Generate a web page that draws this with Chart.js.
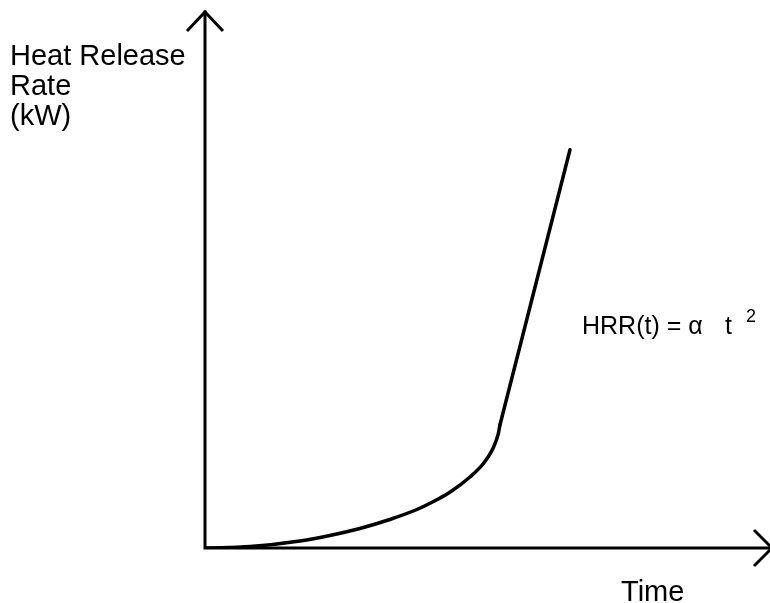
<!DOCTYPE html>
<html>
<head>
<meta charset="utf-8">
<script src="https://cdn.jsdelivr.net/npm/chart.js@4/dist/chart.umd.min.js"></script>
<style>
  html, body { margin: 0; padding: 0; background: #fff; }
  #wrap { width: 770px; height: 603px; }
</style>
</head>
<body>
<div id="wrap"><canvas id="hrr"></canvas></div>
<script>
// growth phase (t-squared part)
const growthTime = [0, 8.0, 16.8, 22.1, 27.4, 32.7, 37.5, 41.1, 43.4, 46.9, 49.2, 51.0, 51.9, 52.2];
const growthHrr = [0, 0.28, 1.31, 2.33, 3.64, 5.32, 7.18, 9.05, 10.45, 13.25, 15.67, 18.66, 21.27, 22.95];
// straight rise after the kink
const rampTime = [52.2, 64.6];
const rampHrr = [22.95, 74.3];

const yLabel = ['Heat Release', 'Rate', '(kW)'];
const xLabel = 'Time';

const toPoints = (xs, ys) => xs.map((x, i) => ({ x, y: ys[i] }));

const axesPlugin = {
  id: 'axesArrows',
  afterDraw(chart) {
    const { ctx, chartArea, scales } = chart;
    const x0 = scales.x.getPixelForValue(0);
    const y0 = scales.y.getPixelForValue(0);
    ctx.save();
    ctx.strokeStyle = '#000';
    ctx.lineWidth = 3;
    ctx.lineCap = 'square';
    ctx.lineJoin = 'miter';

    // axes
    ctx.beginPath();
    ctx.moveTo(x0, chartArea.top);
    ctx.lineTo(x0, y0);
    ctx.lineTo(chartArea.right + 2, y0);
    ctx.stroke();

    // arrow heads
    ctx.lineCap = 'butt';
    ctx.beginPath();
    ctx.moveTo(x0 - 18, chartArea.top + 19);
    ctx.lineTo(x0, chartArea.top);
    ctx.lineTo(x0 + 18, chartArea.top + 19);
    ctx.stroke();
    const tip = chartArea.right + 2;
    ctx.beginPath();
    ctx.moveTo(tip - 18, y0 - 18);
    ctx.lineTo(tip, y0);
    ctx.lineTo(tip - 18, y0 + 18);
    ctx.stroke();

    // labels
    ctx.fillStyle = '#000';
    ctx.textBaseline = 'alphabetic';
    ctx.textAlign = 'left';
    ctx.font = '29px "Liberation Sans", Arial, sans-serif';
    yLabel.forEach((line, i) => ctx.fillText(line, 10, 65 + i * 30));
    ctx.fillText(xLabel, 621, 601);

    ctx.font = '25px "Liberation Sans", Arial, sans-serif';
    ctx.fillText('HRR(t) = \u03b1', 582, 334);
    ctx.fillText('t', 725, 334);
    ctx.font = '18px "Liberation Sans", Arial, sans-serif';
    ctx.fillText('2', 746, 322);
    ctx.restore();
  }
};

new Chart(document.getElementById('hrr'), {
  type: 'line',
  data: {
    datasets: [
      {
        data: toPoints(growthTime, growthHrr),
        borderColor: '#000',
        borderWidth: 3.5,
        pointRadius: 0,
        cubicInterpolationMode: 'monotone',
        borderCapStyle: 'round',
      },
      {
        data: toPoints(rampTime, rampHrr),
        borderColor: '#000',
        borderWidth: 3.5,
        pointRadius: 0,
        tension: 0,
        borderCapStyle: 'round',
      },
    ],
  },
  options: {
    responsive: true,
    maintainAspectRatio: false,
    animation: false,
    layout: { padding: { left: 205, right: 0, top: 12, bottom: 55 } },
    plugins: { legend: { display: false }, tooltip: { enabled: false } },
    scales: {
      x: { type: 'linear', min: 0, max: 100, display: false },
      y: { type: 'linear', min: 0, max: 100, display: false },
    },
  },
  plugins: [axesPlugin],
});
</script>
</body>
</html>
